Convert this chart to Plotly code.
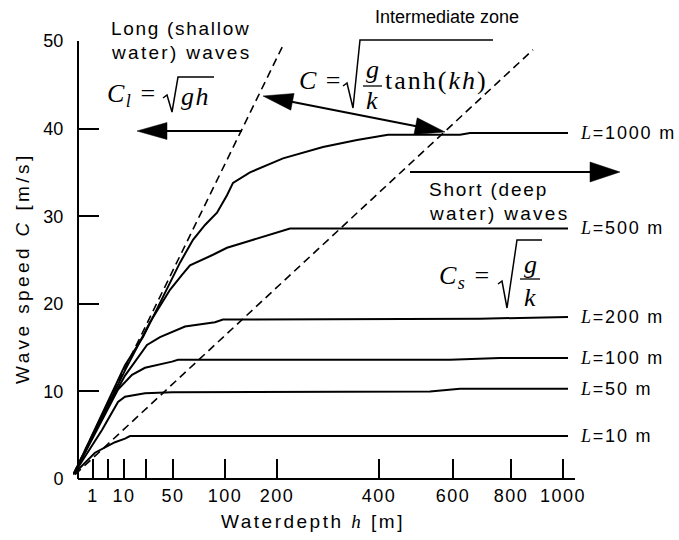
import numpy as np
import plotly.graph_objects as go

# ---------------- data (x in the chart's own horizontal units; the depth scale is non-uniform) ----
TICK_POS = [15, 46, 95, 147, 199, 301, 375, 433, 485]
TICK_TEXT = ["1", "10", "50", "100", "200", "400", "600", "800", "1000"]
MINOR_TICK_POS = [30, 68]
Y_TICKS = [0, 10, 20, 30, 40, 50]

L1000_x = [-4, 22, 47, 65, 82, 92, 102, 115, 127, 139, 149, 155, 172, 205, 245, 279, 310, 382, 392, 490]
L1000_c = [0.6, 7.0, 13.0, 16.2, 20.1, 22.4, 24.7, 27.3, 29.0, 30.4, 32.4, 33.8, 35.0, 36.6, 37.9, 38.7, 39.3, 39.3, 39.5, 39.5]
L500_x = [-4, 22, 47, 72, 92, 104, 112, 135, 149, 172, 192, 212, 490]
L500_c = [0.6, 6.7, 12.4, 17.9, 21.6, 23.3, 24.4, 25.6, 26.4, 27.2, 27.9, 28.6, 28.6]
L200_x = [-4, 22, 47, 69, 82, 94, 107, 137, 145, 402, 490]
L200_c = [0.6, 6.6, 11.8, 15.3, 16.2, 16.8, 17.4, 17.9, 18.2, 18.3, 18.5]
L100_x = [-4, 22, 40, 54, 67, 94, 100, 372, 422, 490]
L100_c = [0.6, 6.3, 10.2, 11.9, 12.7, 13.4, 13.6, 13.6, 13.8, 13.8]
L50_x = [-4, 10, 24, 40, 47, 67, 94, 352, 382, 490]
L50_c = [0.6, 3.1, 5.6, 8.8, 9.4, 9.8, 9.9, 10.0, 10.3, 10.3]
L10_x = [-4, 17, 37, 47, 52, 490]
L10_c = [0.6, 3.0, 4.2, 4.6, 4.9, 4.9]

LONG_x = [-5, 205]
LONG_c = [0.5, 49.5]
SHORT_x = [-3, 455]
SHORT_c = [0.5, 49.0]

CURVES = [("1000", L1000_x, L1000_c), ("500", L500_x, L500_c), ("200", L200_x, L200_c),
          ("100", L100_x, L100_c), ("50", L50_x, L50_c), ("10", L10_x, L10_c)]

# ---------------- layout helpers ----------------
W, H = 679, 540
ML, MR, MT, MB = 73, 104, 41, 61
PW, PH = W - ML - MR, H - MT - MB
SANS = "Liberation Sans"
SERIF = "Liberation Serif"


def P(px, py):
    return ((px - ML) / PW, (H - MB - py) / PH)


def sp(text, s):
    if not text:
        return text
    return f"<span style='letter-spacing:{s}px'>{text}</span>"


def ann(text, px, py, size=19, family=SANS, xanchor="left", yanchor="middle", angle=0):
    x, y = P(px, py)
    return dict(text=text, x=x, y=y, xref="paper", yref="paper", xanchor=xanchor,
                yanchor=yanchor, showarrow=False, textangle=angle,
                font=dict(family=family, size=size, color="black"))


def pline(p0, p1, width=2, dash=None):
    x0, y0 = P(*p0)
    x1, y1 = P(*p1)
    ln = dict(color="black", width=width)
    if dash:
        ln["dash"] = dash
    return dict(type="line", xref="paper", yref="paper", x0=x0, y0=y0, x1=x1, y1=y1, line=ln)


def ppath(pts, width=2, closed=False, fill=None):
    s = "M " + " L ".join(f"{P(a, b)[0]:.5f},{P(a, b)[1]:.5f}" for a, b in pts)
    if closed:
        s += " Z"
    d = dict(type="path", path=s, xref="paper", yref="paper", line=dict(color="black", width=width))
    if fill:
        d["fillcolor"] = fill
    return d


def arrow(tail, tip, head_len=30, half_w=8.5, double=False):
    tx, ty = tail
    hx, hy = tip
    d = np.hypot(hx - tx, hy - ty)
    ux, uy = (hx - tx) / d, (hy - ty) / d
    nx, ny = -uy, ux
    out = []

    def head(px_, py_, dx, dy):
        bx, by = px_ - dx * head_len, py_ - dy * head_len
        pts = [(px_, py_), (bx + nx * half_w, by + ny * half_w), (bx - nx * half_w, by - ny * half_w)]
        return ppath(pts, width=0.5, closed=True, fill="black")

    start = (tx + ux * head_len * 0.8, ty + uy * head_len * 0.8) if double else (tx, ty)
    end = (hx - ux * head_len * 0.8, hy - uy * head_len * 0.8)
    out.append(pline(start, end, width=2))
    out.append(head(hx, hy, ux, uy))
    if double:
        out.append(head(tx, ty, -ux, -uy))
    return out


# ---------------- figure ----------------
fig = go.Figure()
for name, xs, cs in CURVES:
    fig.add_trace(go.Scatter(x=xs, y=cs, mode="lines", line=dict(color="black", width=2),
                             name=f"L={name} m", hoverinfo="skip"))
fig.add_trace(go.Scatter(x=LONG_x, y=LONG_c, mode="lines",
                         line=dict(color="black", width=1.6, dash="8px,5px"), hoverinfo="skip"))
fig.add_trace(go.Scatter(x=SHORT_x, y=SHORT_c, mode="lines",
                         line=dict(color="black", width=1.6, dash="8px,5px"), hoverinfo="skip"))

shapes = []
# x axis line (starts at the y axis)
shapes.append(pline((78, 479), (575, 479), width=2))
# arrows
shapes += arrow((242, 131), (137, 131))
shapes += arrow((263, 96), (445, 132), double=True)
shapes += arrow((410, 172), (620, 172), half_w=10)
# radicals
shapes.append(ppath([(163, 98), (167, 95), (172, 112), (178, 77), (214, 77)], width=1.5))
shapes.append(ppath([(343, 86), (347, 83), (353, 108), (360, 40), (493, 40)], width=1.5))
shapes.append(ppath([(498, 284), (502, 281), (507, 308), (517, 240), (542, 240)], width=1.5))
# fraction bars
shapes.append(pline((363, 86), (382, 86), width=1.3))
shapes.append(pline((520, 279), (540, 279), width=1.3))

annotations = []
# region texts
annotations.append(ann(sp("Long (shallow", 1.7), 109, 28))
annotations.append(ann(sp("water) waves", 2.3), 109, 52))
annotations.append(ann("Intermediate zone", 373, 17, size=18))
annotations.append(ann(sp("Short (deep", 1.8), 427, 189))
annotations.append(ann(sp("water) waves", 2.3), 427, 214))
# formulas
annotations.append(ann(sp("<i>C</i><sub><i>l</i></sub> =", 1.5), 105, 95, size=26, family=SERIF))
annotations.append(ann(sp("<i>gh</i>", 1.5), 179, 96, size=26, family=SERIF))
annotations.append(ann(sp("<i>C</i> =", 1.5), 297, 80, size=26, family=SERIF))
annotations.append(ann("<i>g</i>", 372, 70, size=26, family=SERIF, xanchor="center"))
annotations.append(ann("<i>k</i>", 372, 100, size=26, family=SERIF, xanchor="center"))
annotations.append(ann(sp("tanh(<i>kh</i>)", 2), 383, 80, size=26, family=SERIF))
annotations.append(ann(sp("<i>C</i><sub><i>s</i></sub> =", 1.5), 437, 277, size=26, family=SERIF))
annotations.append(ann("<i>g</i>", 530, 264, size=26, family=SERIF, xanchor="center"))
annotations.append(ann("<i>k</i>", 530, 297, size=26, family=SERIF, xanchor="center"))
# curve labels
for name, xs, cs in CURVES:
    annotations.append(dict(
        text=sp(f"<span style='font-family:{SERIF}'><i>L</i></span>={name} m", 1.8),
        x=P(578, 0)[0], y=cs[-1], xref="paper", yref="y", xanchor="left", yanchor="middle",
        showarrow=False, font=dict(family=SANS, size=18, color="black")))
# axis titles
annotations.append(ann(sp("Waterdepth <span style='font-family:Liberation Serif'><i>h</i></span> [m]", 2.5),
                       313, 521, xanchor="center"))
annotations.append(ann(sp("Wave speed <i>C</i> [m/s]", 3.4), 22, 268, xanchor="center", angle=-90))

fig.update_layout(
    width=W, height=H,
    margin=dict(l=ML, r=MR, t=MT, b=MB, pad=0),
    paper_bgcolor="white", plot_bgcolor="white",
    showlegend=False,
    xaxis=dict(range=[-5, 497], showgrid=False, zeroline=False, showline=False,
               ticks="inside", ticklen=20, tickwidth=2, tickcolor="black",
               tickvals=TICK_POS, ticktext=[sp(t, 1.5) for t in TICK_TEXT],
               ticklabelstandoff=4,
               minor=dict(tickvals=MINOR_TICK_POS, ticks="inside", ticklen=20, tickwidth=2,
                          tickcolor="black", showgrid=False),
               tickfont=dict(family=SANS, size=18, color="black")),
    yaxis=dict(range=[0, 50], anchor="free", position=P(78, 0)[0],
               showgrid=False, zeroline=False, showline=True, linewidth=2, linecolor="black",
               ticks="inside", ticklen=20, tickwidth=2, tickcolor="black",
               tickvals=Y_TICKS, ticktext=[str(v) for v in Y_TICKS],
               ticklabelstandoff=10,
               tickfont=dict(family=SANS, size=18, color="black")),
    shapes=shapes,
    annotations=annotations,
)

fig.write_html("out.html", config={"displayModeBar": False},
               post_script="document.body.style.margin='0';")
